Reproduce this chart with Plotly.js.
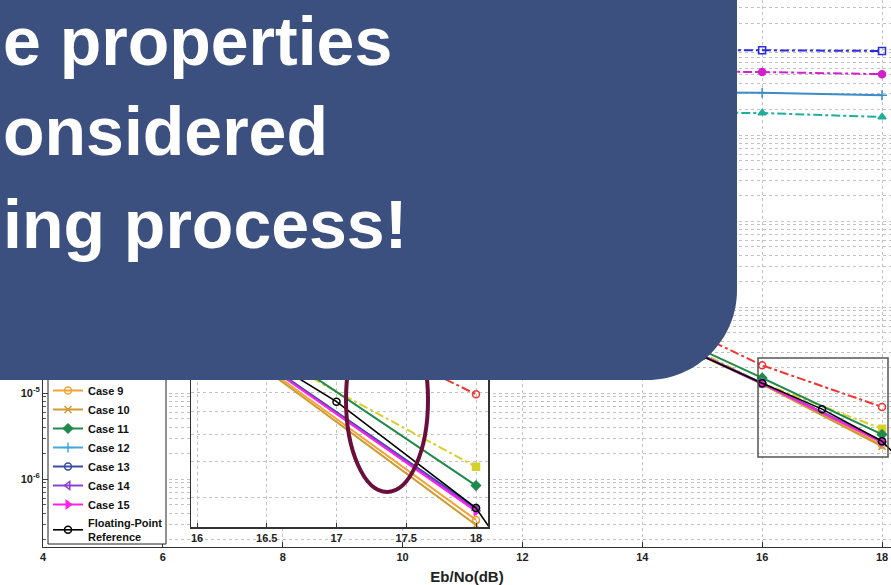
<!DOCTYPE html>
<html>
<head>
<meta charset="utf-8">
<script src="https://cdn.plot.ly/plotly-3.0.1.min.js"></script>
<style>
  html, body { margin: 0; padding: 0; background: #ffffff; }
  #chart { width: 891px; height: 585px; }
</style>
</head>
<body>
<div id="chart"></div>
<script>
// ---------------- data ----------------
const ebno    = [4, 6, 8, 10, 12, 14, 16, 18];                       // Eb/No (dB), even steps
const ebnoRef = [4, 5, 6, 7, 8, 9, 10, 11, 12, 13, 14, 15, 16, 17, 18, 19];

const case3  = [0.22, 0.16, 0.125, 0.108, 0.100, 0.098, 0.097, 0.095];
const case4  = [0.15, 0.095, 0.072, 0.062, 0.057, 0.055, 0.054, 0.051];
const case5  = [0.11, 0.065, 0.045, 0.037, 0.033, 0.0315, 0.031, 0.029];
const case6  = [0.085, 0.048, 0.030, 0.023, 0.020, 0.0185, 0.018, 0.0162];
const case7  = [3.6e-2, 1.5e-2, 5.5e-3, 1.8e-3, 5.0e-4, 9.7e-5, 2.1e-5, 6.9e-6];
const case8  = [3.3e-2, 1.25e-2, 4.0e-3, 1.15e-3, 2.9e-4, 6.5e-5, 1.3e-5, 3.84e-6];
const case9  = [2.9e-2, 1.1e-2, 3.6e-3, 1.0e-3, 2.5e-4, 5.7e-5, 1.28e-5, 2.5e-6];
const case10 = [2.9e-2, 1.1e-2, 3.6e-3, 1.0e-3, 2.5e-4, 5.7e-5, 1.27e-5, 2.4e-6];
const case11 = [3.0e-2, 1.15e-2, 3.8e-3, 1.1e-3, 2.8e-4, 6.6e-5, 1.5e-5, 3.3e-6];
const case12 = [2.9e-2, 1.1e-2, 3.6e-3, 1.0e-3, 2.55e-4, 5.8e-5, 1.3e-5, 2.7e-6];
const case13 = [2.9e-2, 1.1e-2, 3.6e-3, 1.0e-3, 2.55e-4, 5.8e-5, 1.3e-5, 2.75e-6];
const case14 = [2.9e-2, 1.1e-2, 3.6e-3, 1.0e-3, 2.55e-4, 5.8e-5, 1.29e-5, 2.72e-6];
const case15 = [2.9e-2, 1.1e-2, 3.6e-3, 1.0e-3, 2.55e-4, 5.8e-5, 1.29e-5, 2.68e-6];
const reference = [3.4e-2, 2.2e-2, 1.3e-2, 7.2e-3, 3.8e-3, 1.95e-3, 9.8e-4, 4.9e-4,
                   2.45e-4, 1.2e-4, 5.6e-5, 2.7e-5, 1.3e-5, 6.5e-6, 2.75e-6, 5.4e-7];

const mainXTicks   = [4, 6, 8, 10, 12, 14, 16, 18];
const mainYTicks   = [1e-6, 1e-5];                 // labelled decades visible in the picture
const mainYLabels  = ['10<sup>-6</sup>', '10<sup>-5</sup>'];
const insetXTicks  = [16, 16.5, 17, 17.5, 18];
const insetXLabels = ['16', '16.5', '17', '17.5', '18'];
const calloutLines = ['e properties', 'onsidered', 'ing process!'];
const xTitle = 'Eb/No(dB)';

// ---------------- series table ----------------
const series = [
  {name: 'Case 3',  x: ebno, y: case3,  color: '#2b2be0', dash: 'dashdot', symbol: 'square-open',        legend: false},
  {name: 'Case 4',  x: ebno, y: case4,  color: '#d21fcc', dash: 'dashdot', symbol: 'circle',             legend: false},
  {name: 'Case 5',  x: ebno, y: case5,  color: '#3d8cc6', dash: 'solid',   symbol: 'cross-thin-open',    legend: false},
  {name: 'Case 6',  x: ebno, y: case6,  color: '#1fae9a', dash: 'dashdot', symbol: 'triangle-up',        legend: false},
  {name: 'Case 7',  x: ebno, y: case7,  color: '#f23434', dash: 'dashdot', symbol: 'circle-open',        legend: false},
  {name: 'Case 8',  x: ebno, y: case8,  color: '#d6d02a', dash: 'dashdot', symbol: 'square',             legend: false},
  {name: 'Case 9',  x: ebno, y: case9,  color: '#f4a236', dash: 'solid',   symbol: 'circle-open',        legend: true},
  {name: 'Case 10', x: ebno, y: case10, color: '#cf9a30', dash: 'solid',   symbol: 'x-thin-open',        legend: true},
  {name: 'Case 11', x: ebno, y: case11, color: '#1f8a4c', dash: 'solid',   symbol: 'diamond',            legend: true},
  {name: 'Case 12', x: ebno, y: case12, color: '#46a9de', dash: 'solid',   symbol: 'cross-thin-open',    legend: true},
  {name: 'Case 13', x: ebno, y: case13, color: '#3a4aa0', dash: 'solid',   symbol: 'circle-open',        legend: true},
  {name: 'Case 14', x: ebno, y: case14, color: '#8b3fd6', dash: 'solid',   symbol: 'triangle-left-open', legend: true},
  {name: 'Case 15', x: ebno, y: case15, color: '#ff22e6', dash: 'solid',   symbol: 'triangle-right',     legend: true},
  {name: 'Floating-Point<br>Reference', x: ebnoRef, y: reference, color: '#000000', dash: 'solid', symbol: 'circle-open', legend: true, width: 1.6}
];

// ---------------- geometry helpers (pixel -> paper) ----------------
const W = 891, H = 585;
const ML = 43, MR = 0, MT = 0, MB = 38;
const PW = W - ML - MR, PH = H - MT - MB;
const X = px => (px - ML) / PW;
const Y = py => (H - MB - py) / PH;

const traces = [];
series.forEach(s => {
  const base = {
    type: 'scatter', mode: 'lines+markers', x: s.x, y: s.y, name: s.name,
    line: {color: s.color, width: s.width || 2, dash: s.dash},
    marker: {symbol: s.symbol, size: 7, color: s.color, line: {color: s.color, width: 1.5}},
    hoverinfo: 'skip'
  };
  traces.push(Object.assign({}, base, {xaxis: 'x', yaxis: 'y', showlegend: s.legend}));
  traces.push(Object.assign({}, base, {xaxis: 'x2', yaxis: 'y2', showlegend: false}));
});

// log grid positions (1..9 x 10^k)
function logGrid(kmin, kmax) {
  const vals = [];
  for (let k = kmin; k <= kmax; k++) {
    for (let m = 1; m <= 9; m++) vals.push(m * Math.pow(10, k));
  }
  return vals;
}

const tickFont = {family: '"Liberation Sans Narrow", "Arial Narrow", "Liberation Sans", Arial, sans-serif', size: 11, color: '#222', weight: 'bold'};
const gridColor = '#c2c2c2';

// blue callout box with rounded lower-right corner
const r = 90, bx = 737, by = 380, k = 0.5523 * r;
const boxPath = 'M ' + X(-10) + ' ' + Y(-10) +
  ' L ' + X(bx) + ' ' + Y(-10) +
  ' L ' + X(bx) + ' ' + Y(by - r) +
  ' C ' + X(bx) + ' ' + Y(by - r + k) + ' ' + X(bx - r + k) + ' ' + Y(by) + ' ' + X(bx - r) + ' ' + Y(by) +
  ' L ' + X(-10) + ' ' + Y(by) + ' Z';

const shapes = [
  // legend frame
  {type: 'rect', xref: 'paper', yref: 'paper', x0: X(48), x1: X(166), y0: Y(544), y1: Y(300),
   fillcolor: '#ffffff', line: {color: '#222', width: 1}, layer: 'above'},
  // zoom region marker
  {type: 'rect', xref: 'paper', yref: 'paper', x0: X(758), x1: X(888), y0: Y(457), y1: Y(358),
   line: {color: '#555', width: 1.5}, layer: 'above'},
  // highlight ellipse
  {type: 'circle', xref: 'paper', yref: 'paper', x0: X(346), x1: X(428), y0: Y(492), y1: Y(308),
   line: {color: '#6a0f3c', width: 4}, layer: 'above'},
  // callout box
  {type: 'path', xref: 'paper', yref: 'paper', path: boxPath,
   fillcolor: '#3c5080', line: {width: 0}, layer: 'above'}
];

const calloutFont = {family: '"Liberation Sans", Arial, sans-serif', size: 68, color: '#ffffff', weight: 'bold'};
const calloutMid = [41, 131, 224];
const annotations = calloutLines.map((t, i) => ({
  xref: 'paper', yref: 'paper', x: X(0.5), y: Y(calloutMid[i]),
  xanchor: 'left', yanchor: 'middle', text: t, showarrow: false, font: calloutFont
}));

const layout = {
  width: W, height: H,
  margin: {l: ML, r: MR, t: MT, b: MB},
  paper_bgcolor: '#ffffff', plot_bgcolor: '#ffffff',
  showlegend: true,
  legend: {
    x: X(48), y: Y(376), xanchor: 'left', yanchor: 'top',
    bgcolor: 'rgba(0,0,0,0)', borderwidth: 0,
    font: {family: '"Liberation Sans Narrow", "Arial Narrow", "Liberation Sans", Arial, sans-serif', size: 11, color: '#111', weight: 'bold'},
    tracegroupgap: 0
  },
  xaxis: {
    domain: [0, 1], range: [4, 18.15], type: 'linear',
    tickvals: mainXTicks, ticktext: mainXTicks.map(String),
    ticks: 'inside', ticklen: 5, tickcolor: '#333',
    showline: true, linecolor: '#333', linewidth: 1, mirror: false,
    showgrid: true, gridcolor: gridColor, griddash: 'dot', gridwidth: 1,
    zeroline: false, tickfont: tickFont,
    title: {text: xTitle, font: {family: '"Liberation Sans", Arial, sans-serif', size: 15, color: '#222', weight: 'bold'}, standoff: 9}
  },
  yaxis: {
    domain: [0, 1], type: 'log', range: [-6.79, -0.43],
    tickvals: mainYTicks, ticktext: mainYLabels,
    ticks: 'inside', ticklen: 6, tickcolor: '#444',
    showline: true, linecolor: '#333', linewidth: 1,
    showgrid: true, gridcolor: gridColor, griddash: 'dot', gridwidth: 1,
    minor: {tickvals: logGrid(-7, 0), ticks: 'inside', ticklen: 3, tickcolor: '#555',
            showgrid: true, gridcolor: gridColor, griddash: 'dot', gridwidth: 1},
    zeroline: false, tickfont: tickFont
  },
  xaxis2: {
    domain: [X(191), X(488)], anchor: 'y2', range: [15.957, 18.086],
    tickvals: insetXTicks, ticktext: insetXLabels,
    ticks: 'inside', ticklen: 4, tickcolor: '#333',
    showline: true, linecolor: '#333', linewidth: 1.5, mirror: true,
    showgrid: true, gridcolor: gridColor, griddash: 'dot',
    zeroline: false, tickfont: tickFont
  },
  yaxis2: {
    domain: [Y(527), Y(340)], anchor: 'x2', type: 'log', range: [-5.627, -4.9705],
    tickvals: [], showticklabels: false, ticks: '',
    showline: true, linecolor: '#333', linewidth: 1.5, mirror: true,
    showgrid: false,
    minor: {tickvals: logGrid(-6, -5), ticks: '', showgrid: true, gridcolor: gridColor, griddash: 'dot', gridwidth: 1},
    zeroline: false
  },
  shapes: shapes,
  annotations: annotations
};

Plotly.newPlot('chart', traces, layout, {displayModeBar: false, staticPlot: true});
</script>
</body>
</html>
